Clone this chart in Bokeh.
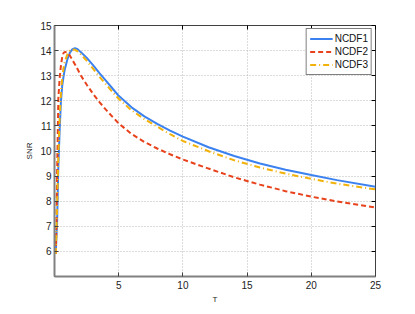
from bokeh.plotting import figure
from bokeh.models import Range1d, FixedTicker, LinearAxis, Legend, LegendItem
from bokeh.embed import file_html
from bokeh.resources import INLINE

# Data
T = [0.1, 0.15, 0.2, 0.3, 0.4, 0.5, 0.6, 0.7, 0.8, 1.0, 1.2, 1.4, 1.6, 1.8, 2.0,
     2.5, 3.0, 3.5, 4.0, 4.5, 5.0, 6.0, 7.0, 8.0, 9.0, 10.0, 12.0, 14.0, 16.0, 18.0,
     20.0, 22.0, 25.0]
ncdf1 = [5.9, 6.6, 7.1, 9.4, 10.8, 11.95, 12.6, 12.95, 13.25, 13.65, 13.92, 14.06,
         14.1, 14.06, 13.96, 13.72, 13.42, 13.1, 12.8, 12.5, 12.2, 11.74, 11.38, 11.08,
         10.81, 10.57, 10.15, 9.8, 9.5, 9.25, 9.04, 8.84, 8.58]
ncdf2 = [5.9, 7.0, 9.0, 12.1, 12.9, 13.4, 13.75, 13.9, 13.95, 13.92, 13.8, 13.62,
         13.45, 13.26, 13.05, 12.65, 12.28, 11.95, 11.65, 11.37, 11.1, 10.68, 10.36,
         10.1, 9.87, 9.66, 9.3, 8.95, 8.66, 8.4, 8.18, 7.99, 7.75]
ncdf3 = [5.9, 6.8, 7.8, 9.8, 11.3, 12.3, 12.9, 13.3, 13.55, 13.85, 14.0, 14.05,
         14.03, 13.97, 13.88, 13.6, 13.28, 12.96, 12.66, 12.36, 12.08, 11.62, 11.27,
         10.97, 10.67, 10.4, 9.99, 9.63, 9.34, 9.1, 8.89, 8.7, 8.47]
series_names = ["NCDF1", "NCDF2", "NCDF3"]
x_ticks = [5, 10, 15, 20, 25]
y_ticks = [6, 7, 8, 9, 10, 11, 12, 13, 14, 15]

FONT = "Liberation Sans"

p = figure(width=399, height=306, output_backend="svg", toolbar_location=None,
           x_range=Range1d(0, 25), y_range=Range1d(5, 15),
           min_border_left=54, min_border_right=24, min_border_top=25,
           min_border_bottom=26, x_axis_label="T", y_axis_label="SNR")
p.background_fill_color = "white"
p.border_fill_color = "white"
p.outline_line_color = "#404040"
p.outline_line_width = 1

for ax, ticks in ((p.xaxis[0], x_ticks), (p.yaxis[0], y_ticks)):
    ax.ticker = FixedTicker(ticks=ticks)
    ax.major_tick_in = 4
    ax.major_tick_out = 0
    ax.minor_tick_line_color = None
    ax.axis_line_color = "#808080"
    ax.axis_line_width = 2
    ax.major_tick_line_color = "#404040"
    ax.major_label_text_font = FONT
    ax.major_label_text_font_size = "10px"
    ax.major_label_text_color = "#222222"
    ax.axis_label_text_font = FONT
    ax.axis_label_text_font_size = "8px"
    ax.axis_label_text_font_style = "normal"
    ax.axis_label_text_color = "#222222"
    ax.axis_label_standoff = 3
p.xaxis[0].major_label_standoff = 4
p.yaxis[0].major_label_standoff = 3

top = LinearAxis(ticker=FixedTicker(ticks=x_ticks), major_tick_in=4, major_tick_out=0,
                 minor_tick_line_color=None, axis_line_color=None,
                 major_label_overrides={t: "" for t in x_ticks}, major_label_standoff=0)
right = LinearAxis(ticker=FixedTicker(ticks=y_ticks), major_tick_in=4, major_tick_out=0,
                   minor_tick_line_color=None, axis_line_color=None,
                   major_label_overrides={t: "" for t in y_ticks}, major_label_standoff=0)
p.add_layout(top, "above")
p.add_layout(right, "right")

p.xgrid.ticker = FixedTicker(ticks=x_ticks)
p.ygrid.ticker = FixedTicker(ticks=y_ticks)
for g in (p.xgrid[0], p.ygrid[0]):
    g.grid_line_color = "#b8b8b8"
    g.grid_line_dash = "1 2"
    g.grid_line_width = 1

r1 = p.line(T, ncdf1, line_color="#3b82f0", line_width=2)
r2 = p.line(T, ncdf2, line_color="#e8421c", line_width=2, line_dash="5 3")
r3 = p.line(T, ncdf3, line_color="#f2b20c", line_width=2, line_dash="6 3 1 3")

legend = Legend(items=[LegendItem(label=series_names[0], renderers=[r1]),
                       LegendItem(label=series_names[1], renderers=[r2]),
                       LegendItem(label=series_names[2], renderers=[r3])],
                location="top_right")
legend.margin = 3
legend.padding = 3
legend.spacing = 0
legend.label_height = 13
legend.glyph_height = 13
legend.glyph_width = 23
legend.label_standoff = 2
legend.label_text_font = FONT
legend.label_text_font_size = "10px"
legend.label_text_color = "#111111"
legend.border_line_color = "black"
legend.border_line_width = 1
legend.background_fill_color = "white"
legend.background_fill_alpha = 1
p.add_layout(legend, "center")

open("out.html", "w").write(file_html(p, INLINE))
